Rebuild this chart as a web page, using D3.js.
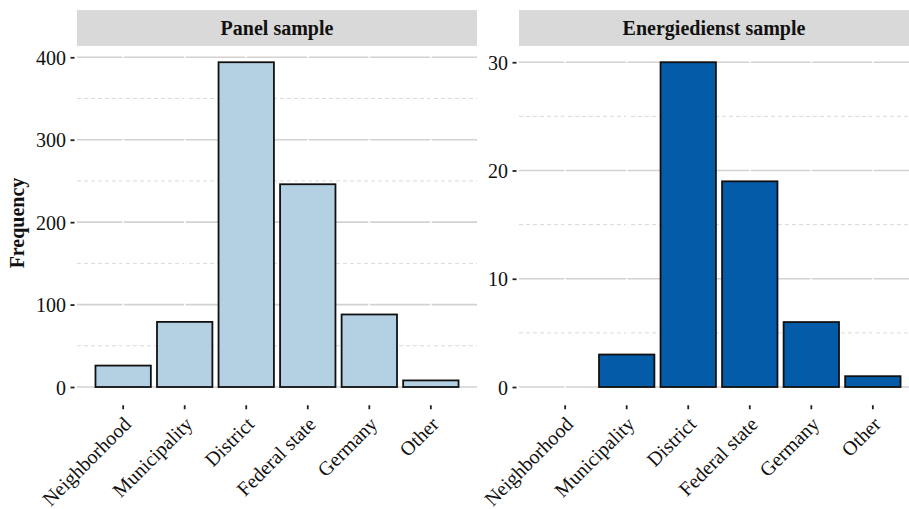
<!DOCTYPE html>
<html><head><meta charset="utf-8">
<script src="https://cdn.jsdelivr.net/npm/d3@7"></script>
<style>
body{margin:0;background:#fff;}
text{font-family:"Liberation Serif","Times New Roman",serif;}
</style></head>
<body><svg id="c" width="909" height="509"></svg>
<script>
const categories = ["Neighborhood","Municipality","District","Federal state","Germany","Other"];
const panelTitles = ["Panel sample","Energiedienst sample"];
const panelSample = [26, 79, 394, 246, 88, 8];
const energiedienstSample = [0, 3, 30, 19, 6, 1];
const panelTicks = [0, 100, 200, 300, 400];
const panelMinor = [50, 150, 250, 350];
const energTicks = [0, 10, 20, 30];
const energMinor = [5, 15, 25];
const yLabel = "Frequency";

const svg = d3.select("#c");
const plotTop = 46, plotBottom = 403.25;

const panels = [
  {title: panelTitles[0], values: panelSample, ticks: panelTicks, minor: panelMinor, x0: 77, x1: 477, fill: "#b4d1e4"},
  {title: panelTitles[1], values: energiedienstSample, ticks: energTicks, minor: energMinor, x0: 519, x1: 919, fill: "#045ca9"}
];

panels.forEach(p => {
  const g = svg.append("g");
  const x = d3.scaleBand().domain(categories).range([p.x0, p.x1]).paddingInner(0.1).paddingOuter(0.3);
  const m = d3.max(p.values);
  const y = d3.scaleLinear().domain([-0.05*m, 1.05*m]).range([plotBottom, plotTop]);

  // strip
  g.append("rect").attr("x", p.x0).attr("y", 10).attr("width", p.x1 - p.x0).attr("height", 36).attr("fill", "#d9d9d9");
  g.append("text").attr("x", (p.x0 + p.x1) / 2 - (p.x1 > 909 ? 5 : 0)).attr("y", 35)
    .attr("text-anchor", "middle").attr("font-size", 20).attr("font-weight", "bold").attr("fill", "#111").text(p.title);

  // minor grid
  g.selectAll(".mn").data(p.minor).join("line")
    .attr("x1", p.x0).attr("x2", p.x1).attr("y1", d => y(d)).attr("y2", d => y(d))
    .attr("stroke", "#dadada").attr("stroke-width", 1).attr("stroke-dasharray", "4,3");
  // major grid
  g.selectAll(".mj").data(p.ticks).join("line")
    .attr("x1", p.x0).attr("x2", p.x1).attr("y1", d => y(d)).attr("y2", d => y(d))
    .attr("stroke", "#d2d2d2").attr("stroke-width", 1.6);
  // white vertical grid at categories
  g.selectAll(".vg").data(categories).join("line")
    .attr("x1", d => x(d) + x.bandwidth()/2).attr("x2", d => x(d) + x.bandwidth()/2)
    .attr("y1", plotTop).attr("y2", plotBottom)
    .attr("stroke", "#fff").attr("stroke-width", 1.5);

  // bars
  g.selectAll(".bar").data(categories.map((c, i) => ({c, v: p.values[i]})).filter(d => d.v > 0)).join("rect")
    .attr("x", d => x(d.c)).attr("width", x.bandwidth())
    .attr("y", d => y(d.v)).attr("height", d => y(0) - y(d.v))
    .attr("fill", p.fill).attr("stroke", "#111").attr("stroke-width", 1.8);

  // y axis
  const ya = g.append("g").attr("transform", `translate(${p.x0},0)`)
    .call(d3.axisLeft(y).tickValues(p.ticks).tickSize(4).tickPadding(7).tickFormat(d3.format("d")));
  ya.select(".domain").remove();
  ya.selectAll(".tick line").attr("stroke", "#222").attr("stroke-width", 1.8).attr("x1", -2.5).attr("x2", -6.5);
  ya.selectAll(".tick text").attr("font-size", 20).attr("fill", "#111").attr("font-family", "Liberation Serif").attr("dy", "0.35em");

  // x axis
  const xa = g.append("g").attr("transform", `translate(0,${plotBottom})`)
    .call(d3.axisBottom(x).tickSize(4.5).tickPadding(0));
  xa.select(".domain").remove();
  xa.selectAll(".tick line").attr("stroke", "#222").attr("stroke-width", 1.8).attr("y1", 2).attr("y2", 6);
  xa.selectAll(".tick text")
    .attr("font-size", 20).attr("fill", "#111").attr("font-family", "Liberation Serif")
    .attr("text-anchor", "end").attr("x", 0).attr("y", 0).attr("dy", "0.72em")
    .attr("transform", "translate(-1,12) rotate(-45)");
});

svg.append("text").attr("transform", "translate(24,223) rotate(-90)")
  .attr("text-anchor", "middle").attr("font-size", 20).attr("font-weight", "bold").attr("fill", "#111").text(yLabel);
</script></body></html>
